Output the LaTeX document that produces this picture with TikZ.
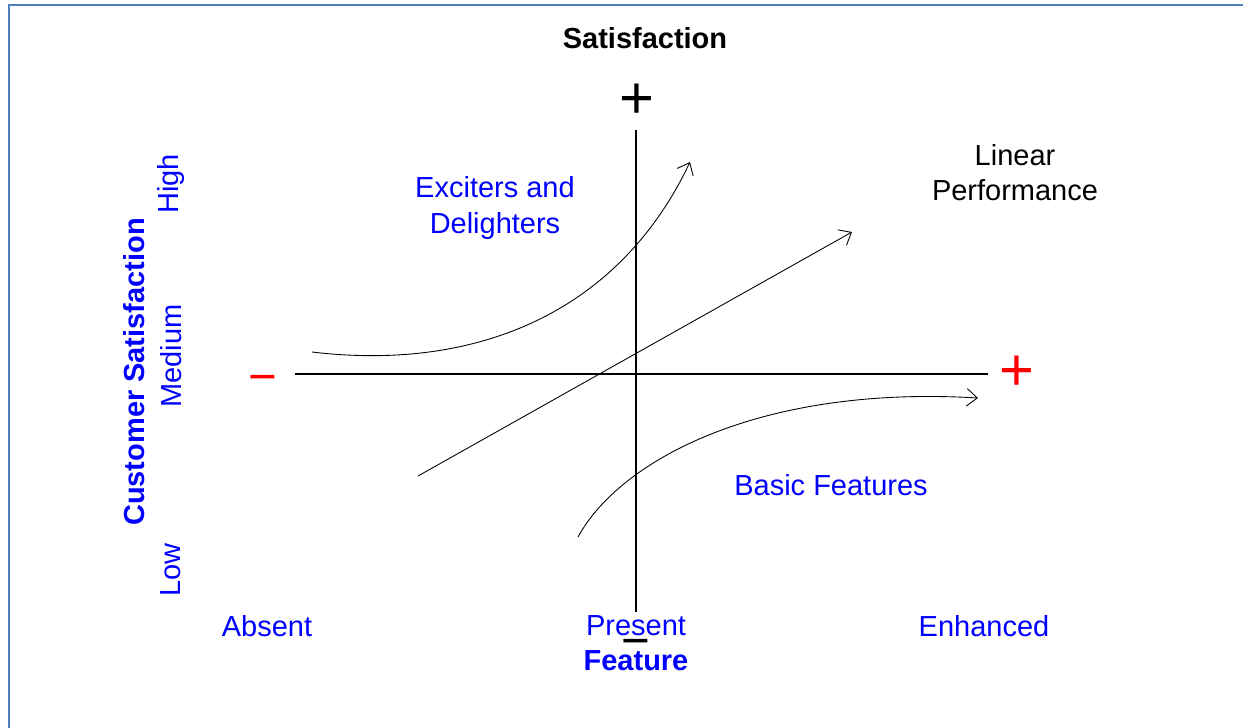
\documentclass[tikz,border=0pt]{standalone}
\usepackage{fontspec}
\setmainfont{Liberation Sans}
\usetikzlibrary{arrows.meta}

\definecolor{framecol}{RGB}{79,129,189}

\begin{document}
\begin{tikzpicture}[
    x=0.02cm, y=-0.02cm,
    txt/.style={font=\fontsize{16.5}{20}\selectfont, align=center, inner sep=0pt},
    lbl/.style={txt, text=blue},
    sign/.style={font=\fontsize{34}{34}\selectfont, inner sep=0pt},
    minus/.style={font=\fontsize{28}{28}\selectfont, inner sep=0pt},
    axis/.style={line width=1.1pt},
    curve/.style={-{Straight Barb[length=6pt,width=10pt]}, line width=0.5pt}
  ]
    \useasboundingbox (0,0) rectangle (1243,727);
    \draw[framecol, line width=1.5pt] (1260,5) -- (9,5) -- (9,740);

    % axes
    \coordinate (xl) at (295,374);
    \coordinate (xr) at (988,374);
    \coordinate (yt) at (636,130);
    \coordinate (yb) at (636,612);
    \draw[axis] (xl) -- (xr);
    \draw[axis] (yt) -- (yb);

    \node[sign] (ptop) at (637,101) {+};
    \node[minus] (mbot) at (636,648) {−};
    \node[minus, text=red] (mleft) at (263,384) {−};
    \node[sign, text=red] (pright) at (1017,373) {+};

    \node[txt, font=\fontsize{16.5}{20}\selectfont\bfseries] (title) at (645,38) {Satisfaction};

    % feature axis labels
    \node[lbl] (absent) at (267,626) {Absent};
    \node[lbl] (present) at (636,626) {Present};
    \node[lbl] (enhanced) at (984,626) {Enhanced};
    \node[lbl, font=\fontsize{16.5}{20}\selectfont\bfseries] (feature) at (636,661) {Feature};

    % satisfaction axis labels
    \node[lbl, rotate=90, font=\fontsize{16.5}{20}\selectfont\bfseries] (custsat) at (134,372) {Customer Satisfaction};
    \node[lbl, rotate=90] (low) at (171,570) {Low};
    \node[lbl, rotate=90] (medium) at (171,356) {Medium};
    \node[lbl, rotate=90] (high) at (171,184) {High};

    % curves
    \node[lbl] (exciters) at (495,208) {Exciters and\\Delighters};
    \node[txt] (linear) at (1015,173) {Linear\\Performance};
    \node[lbl] (basic) at (831,485) {Basic Features};

    \coordinate (e0) at (312,352);
    \coordinate (e1) at (690,162);
    \coordinate (l0) at (418,476);
    \coordinate (l1) at (852,232);
    \coordinate (b0) at (578,537);
    \coordinate (b1) at (978,398);
    \draw[curve] (e0) .. controls (480,372) and (620,310) .. (e1);
    \draw[curve] (l0) -- (l1);
    \draw[curve] (b0) .. controls (620,460) and (760,385) .. (b1);
\end{tikzpicture}
\end{document}
